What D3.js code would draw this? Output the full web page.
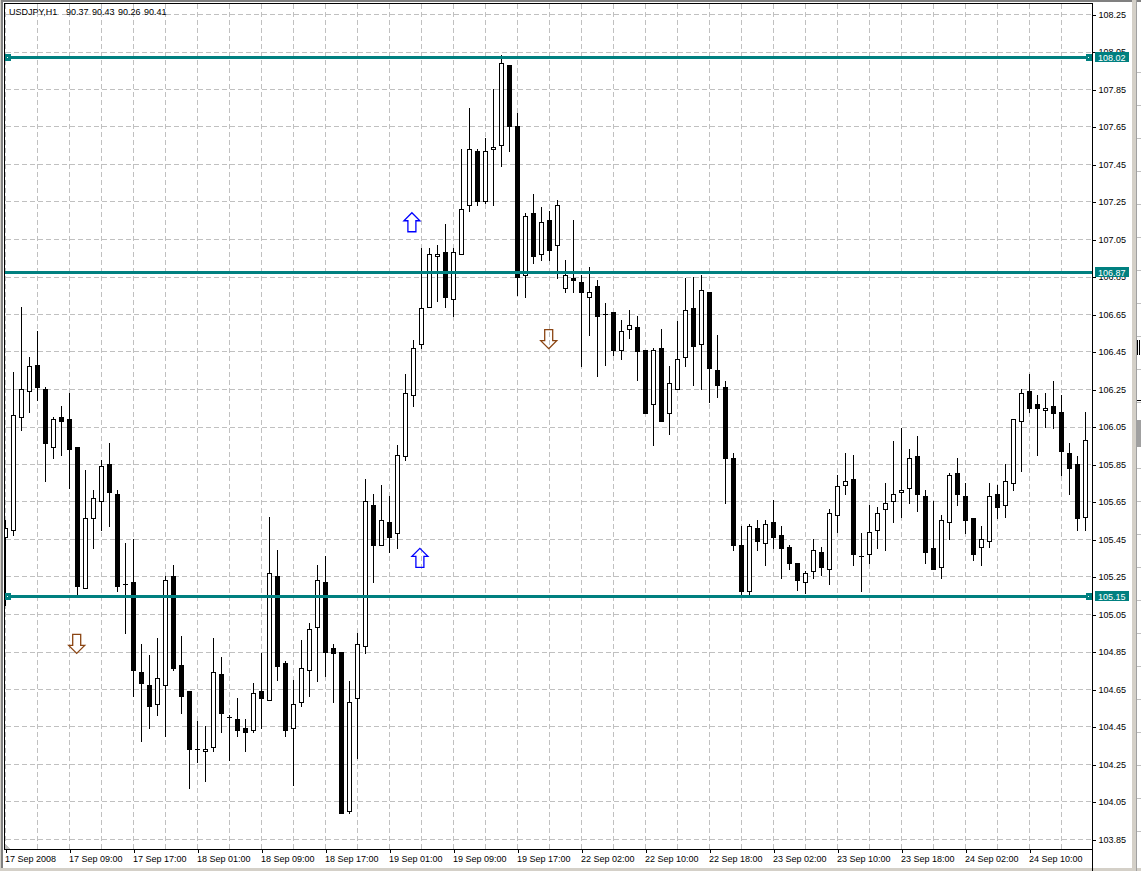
<!DOCTYPE html>
<html>
<head>
<meta charset="utf-8">
<script src="https://cdn.jsdelivr.net/npm/d3@7"></script>
<style>
html,body{margin:0;padding:0;background:#fff;overflow:hidden}
svg{display:block}
text{font-family:"Liberation Sans",Arial,sans-serif;font-size:9px;fill:#000}
</style>
</head>
<body>
<svg id="chart" width="1141" height="871"></svg>
<script>
const opens=[105.46,105.50,106.10,106.24,106.38,106.25,105.94,106.10,106.09,105.94,105.19,105.56,105.65,105.85,105.69,105.21,105.22,104.74,104.67,104.57,104.67,105.25,104.78,104.64,104.33,104.32,104.34,104.73,104.50,104.49,104.44,104.43,104.64,104.59,105.25,104.79,104.44,104.58,104.75,104.98,105.22,104.87,104.85,104.00,104.60,104.88,105.63,105.42,105.54,105.48,105.89,106.22,106.49,106.69,106.96,106.98,106.73,106.97,107.23,107.52,107.25,107.53,107.55,107.98,107.65,106.86,107.19,106.97,107.15,107.02,106.79,106.84,106.82,106.74,106.80,106.65,106.66,106.46,106.57,106.58,106.46,106.17,106.47,106.12,106.25,106.42,106.68,106.49,106.77,106.35,106.26,105.88,105.42,105.17,105.51,105.43,105.54,105.47,105.41,105.32,105.22,105.28,105.38,105.29,105.58,105.74,105.77,105.36,105.37,105.50,105.61,105.65,105.70,105.72,105.89,105.68,105.40,105.30,105.54,105.80,105.68,105.56,105.41,105.44,105.69,105.63,105.75,106.08,106.24,106.17,106.14,106.16,106.13,105.91,105.85,105.57];
const highs=[105.55,106.34,106.69,106.42,106.56,106.26,106.10,106.16,106.23,105.94,105.82,105.71,105.87,105.96,105.71,105.43,105.45,104.89,104.83,104.92,105.25,105.31,104.93,104.64,104.48,104.45,104.92,104.82,104.51,104.60,104.49,104.68,104.84,105.57,105.39,104.80,104.70,104.91,105.00,105.31,105.36,104.89,104.85,104.69,104.95,105.77,105.69,105.74,105.68,105.95,106.33,106.51,107.00,107.00,107.02,107.13,107.00,107.53,107.75,107.53,107.59,107.85,108.03,107.98,107.72,107.19,107.29,107.22,107.20,107.26,106.94,107.15,106.86,106.90,106.83,106.71,106.66,106.62,106.67,106.64,106.46,106.47,106.57,106.37,106.61,106.84,106.85,106.86,106.77,106.54,106.29,105.91,105.52,105.53,105.55,105.55,105.66,105.52,105.42,105.32,105.28,105.45,105.41,105.61,105.79,105.91,105.90,105.48,105.63,105.62,105.75,105.97,106.04,105.93,106.00,105.71,105.65,105.58,105.80,105.88,105.75,105.56,105.52,105.75,105.74,105.85,106.09,106.25,106.33,106.22,106.23,106.29,106.22,105.96,105.89,106.13];
const lows=[105.10,105.47,106.03,106.13,106.19,105.76,105.88,105.90,105.72,105.15,105.19,105.40,105.50,105.52,105.17,104.95,104.61,104.37,104.44,104.51,104.40,104.75,104.52,104.12,104.26,104.16,104.32,104.42,104.27,104.40,104.32,104.42,104.44,104.59,104.70,104.40,104.14,104.56,104.61,104.69,104.72,104.58,103.99,103.99,104.28,104.84,105.22,105.42,105.38,105.40,105.87,106.16,106.47,106.69,106.72,106.69,106.64,106.97,107.20,107.23,107.24,107.23,107.44,107.52,106.75,106.74,106.92,106.94,106.94,106.84,106.77,106.77,106.37,106.54,106.32,106.38,106.43,106.41,106.52,106.30,106.12,105.95,106.08,106.01,106.25,106.37,106.27,106.25,106.18,106.21,105.64,105.39,105.15,105.15,105.39,105.31,105.40,105.24,105.29,105.18,105.16,105.24,105.26,105.21,105.49,105.69,105.31,105.17,105.32,105.40,105.39,105.54,105.57,105.64,105.60,105.32,105.29,105.24,105.45,105.63,105.48,105.34,105.31,105.41,105.56,105.57,105.71,105.81,106.13,105.90,106.05,106.04,105.79,105.69,105.50,105.50];
const closes=[105.51,106.11,106.25,106.37,106.26,105.96,106.09,106.08,105.93,105.20,105.56,105.67,105.84,105.70,105.20,105.21,104.75,104.68,104.56,104.71,105.23,104.76,104.61,104.33,104.33,104.33,104.74,104.52,104.50,104.43,104.42,104.63,104.60,105.27,104.77,104.43,104.57,104.76,104.97,105.23,104.85,104.84,103.99,104.58,104.89,105.65,105.42,105.55,105.46,105.90,106.23,106.47,106.68,106.97,106.97,106.74,106.98,107.21,107.53,107.25,107.52,107.54,107.99,107.65,106.85,107.17,106.96,107.14,106.99,107.23,106.86,106.83,106.77,106.77,106.64,106.65,106.46,106.56,106.59,106.45,106.12,106.46,106.08,106.28,106.41,106.67,106.48,106.78,106.36,106.27,105.88,105.42,105.17,105.52,105.44,105.53,105.46,105.40,105.32,105.23,105.27,105.39,105.30,105.59,105.73,105.76,105.37,105.36,105.49,105.59,105.64,105.69,105.71,105.88,105.69,105.38,105.29,105.55,105.79,105.69,105.55,105.37,105.45,105.68,105.62,105.76,106.09,106.23,106.15,106.15,106.15,106.12,105.92,105.83,105.56,105.98];
const priceTicks=[108.25,108.05,107.85,107.65,107.45,107.25,107.05,106.85,106.65,106.45,106.25,106.05,105.85,105.65,105.45,105.25,105.05,104.85,104.65,104.45,104.25,104.05,103.85];
const timeLabels=["17 Sep 2008","17 Sep 09:00","17 Sep 17:00","18 Sep 01:00","18 Sep 09:00","18 Sep 17:00","19 Sep 01:00","19 Sep 09:00","19 Sep 17:00","22 Sep 02:00","22 Sep 10:00","22 Sep 18:00","23 Sep 02:00","23 Sep 10:00","23 Sep 18:00","24 Sep 02:00","24 Sep 10:00"];
const levelValues=[108.02,106.875,105.145];
const levelLabels=["108.02","106.87","105.15"];
const levelHandles=[true,false,true];
const upBars=[50.8,51.8];
const upPrices=[107.19,105.40];
const downBars=[8.9,67.9];
const downPrices=[104.84,106.465];
const headerLabel=["USDJPY,H1","90.37","90.43","90.26","90.41"];

const svg=d3.select("#chart");
const TEAL="#008080";
const y=d3.scaleLinear().domain([103.85,108.25]).range([839,14]);
const x=d3.scaleLinear().domain([0,135]).range([5.5,1085.5]);
const py=v=>Math.round(y(v));
const L=4,R=1092,T=3,B=849;

// window chrome
svg.append("rect").attr("width",1141).attr("height",871).attr("fill","#fff");
svg.append("rect").attr("x",0).attr("y",0).attr("width",1141).attr("height",2).attr("fill","#808080");
svg.append("rect").attr("x",0).attr("y",0).attr("width",3).attr("height",871).attr("fill","#808080");
svg.append("rect").attr("x",0).attr("y",0).attr("width",1).attr("height",871).attr("fill","#d4d0c8");
svg.append("rect").attr("x",0).attr("y",868).attr("width",1141).attr("height",3).attr("fill","#d4d0c8");
svg.append("rect").attr("x",1132).attr("y",0).attr("width",4).attr("height",871).attr("fill","#d4d0c8");
svg.append("rect").attr("x",1136).attr("y",0).attr("width",1).attr("height",871).attr("fill","#a0a0a0");
svg.append("g").selectAll("rect").data(d3.range(72,860,33)).join("rect")
  .attr("x",1137).attr("y",d=>d).attr("width",4).attr("height",1).attr("fill","#c0c0c0");
svg.append("rect").attr("x",1137).attr("y",420).attr("width",4).attr("height",27).attr("fill","#a0a0a0");
svg.append("rect").attr("x",1137).attr("y",400).attr("width",4).attr("height",1).attr("fill","#000");
svg.append("rect").attr("x",1137).attr("y",340).attr("width",1).attr("height",15).attr("fill","#000");
svg.append("rect").attr("x",1139).attr("y",340).attr("width",1).attr("height",15).attr("fill","#000");

svg.append("defs").append("clipPath").attr("id","plot").append("rect")
  .attr("x",L).attr("y",T).attr("width",R-L).attr("height",B-T);
const plot=svg.append("g").attr("clip-path","url(#plot)").attr("shape-rendering","crispEdges");

// grid
const gridBars=d3.range(0,136,4);
plot.append("g").selectAll("line").data(priceTicks).join("line")
  .attr("x1",L+2).attr("x2",R).attr("y1",d=>py(d)+.5).attr("y2",d=>py(d)+.5)
  .attr("stroke","#c0c0c0").attr("stroke-dasharray","5 3");
plot.append("g").selectAll("line").data(gridBars).join("line")
  .attr("x1",d=>x(d)).attr("x2",d=>x(d)).attr("y1",T+1).attr("y2",B)
  .attr("stroke","#c0c0c0").attr("stroke-dasharray","5 3");
plot.append("path").attr("d","M5,844L10,849L5,849Z").attr("fill","#c0c0c0");

// candles
const idx=d3.range(opens.length);
plot.append("g").selectAll("line").data(idx).join("line")
  .attr("x1",i=>x(i)).attr("x2",i=>x(i))
  .attr("y1",i=>py(highs[i])).attr("y2",i=>py(lows[i])+1)
  .attr("stroke","#000");
plot.append("g").selectAll("rect").data(idx.filter(i=>closes[i]!==opens[i])).join("rect")
  .each(function(i){
    const up=closes[i]>opens[i];
    const t=py(Math.max(opens[i],closes[i])),b=py(Math.min(opens[i],closes[i]));
    if(up){
      d3.select(this).attr("x",x(i)-2).attr("width",4).attr("y",t+.5).attr("height",Math.max(b-t,1))
        .attr("fill","#fff").attr("stroke","#000");
    }else{
      d3.select(this).attr("x",x(i)-2.5).attr("width",5).attr("y",t).attr("height",Math.max(b-t+1,1))
        .attr("fill","#000");
    }
  });
plot.append("g").selectAll("line").data(idx.filter(i=>closes[i]===opens[i])).join("line")
  .attr("x1",i=>x(i)-2.5).attr("x2",i=>x(i)+2.5)
  .attr("y1",i=>py(opens[i])+.5).attr("y2",i=>py(opens[i])+.5)
  .attr("stroke","#000");

// signal arrows
const upShape="M0,0L8,8L4,8L4,19L-4,19L-4,8L-8,8Z";
const downShape="M0,0L8,-8L4,-8L4,-19L-4,-19L-4,-8L-8,-8Z";
const arrows=svg.append("g").attr("fill","none").attr("stroke-width",1.3);
arrows.selectAll(".up").data(upBars).join("path").attr("class","up")
  .attr("d",upShape).attr("stroke","#0000ff")
  .attr("transform",(d,k)=>`translate(${x(d)},${y(upPrices[k])})`);
arrows.selectAll(".down").data(downBars).join("path").attr("class","down")
  .attr("d",downShape).attr("stroke","#8b4513")
  .attr("transform",(d,k)=>`translate(${x(d)},${y(downPrices[k])})`);

// horizontal levels
const lv=svg.append("g").attr("shape-rendering","crispEdges");
lv.selectAll("line").data(levelValues).join("line")
  .attr("x1",L).attr("x2",R).attr("y1",d=>py(d)+.5).attr("y2",d=>py(d)+.5)
  .attr("stroke",TEAL).attr("stroke-width",3);
[L+1,R-6].forEach(hx=>{
  levelValues.forEach((d,k)=>{
    if(!levelHandles[k])return;
    lv.append("rect").attr("x",hx).attr("y",py(d)-3).attr("width",6).attr("height",7).attr("fill",TEAL);
    lv.append("rect").attr("x",hx+2).attr("y",py(d)).attr("width",1).attr("height",1).attr("fill","#fff");
  });
});

// axes
const xAxis=d3.axisBottom(x).tickValues(timeLabels.map((_,k)=>k*8)).tickFormat(d=>timeLabels[d/8]).tickSize(3).tickPadding(2);
const gx=svg.append("g").attr("transform",`translate(0,${B+.5})`).call(xAxis);
gx.select(".domain").remove();
gx.selectAll("line").attr("stroke","#000").attr("shape-rendering","crispEdges");
gx.selectAll("text").attr("text-anchor","start").attr("x",-1).attr("y",5).attr("dy","0.8em").style("font-size","9px").style("font-family",'"Liberation Sans",Arial,sans-serif');

const yAxis=d3.axisRight(y.copy().range([839.5,14.5])).tickValues(priceTicks).tickFormat(d3.format(".2f")).tickSize(3).tickPadding(3);
const gy=svg.append("g").attr("transform",`translate(${R+.5},0)`).call(yAxis);
gy.select(".domain").remove();
gy.selectAll("line").attr("stroke","#000").attr("shape-rendering","crispEdges");
gy.selectAll("text").style("font-size","9px").style("font-family",'"Liberation Sans",Arial,sans-serif');

// frame
const frame=svg.append("g").attr("stroke","#000").attr("shape-rendering","crispEdges");
frame.append("line").attr("x1",L).attr("x2",R).attr("y1",T+.5).attr("y2",T+.5);
frame.append("line").attr("x1",L).attr("x2",R+1).attr("y1",B+.5).attr("y2",B+.5);
frame.append("line").attr("x1",L+.5).attr("x2",L+.5).attr("y1",T).attr("y2",B);
frame.append("line").attr("x1",R+.5).attr("x2",R+.5).attr("y1",T).attr("y2",871);

// level price tags
const tags=svg.append("g");
tags.selectAll("rect").data(levelValues).join("rect")
  .attr("x",R+3).attr("y",d=>py(d)-5).attr("width",34).attr("height",10).attr("fill",TEAL).attr("shape-rendering","crispEdges");
tags.selectAll("text").data(levelLabels).join("text")
  .attr("x",R+6).attr("y",(d,k)=>py(levelValues[k])+3.5).text(d=>d).style("fill","#fff");

// header
const headerX=[9,66,92,118,144];
svg.append("g").selectAll("text").data(headerLabel).join("text")
  .attr("x",(d,k)=>headerX[k]).attr("y",15).text(d=>d);
</script>
</body>
</html>
